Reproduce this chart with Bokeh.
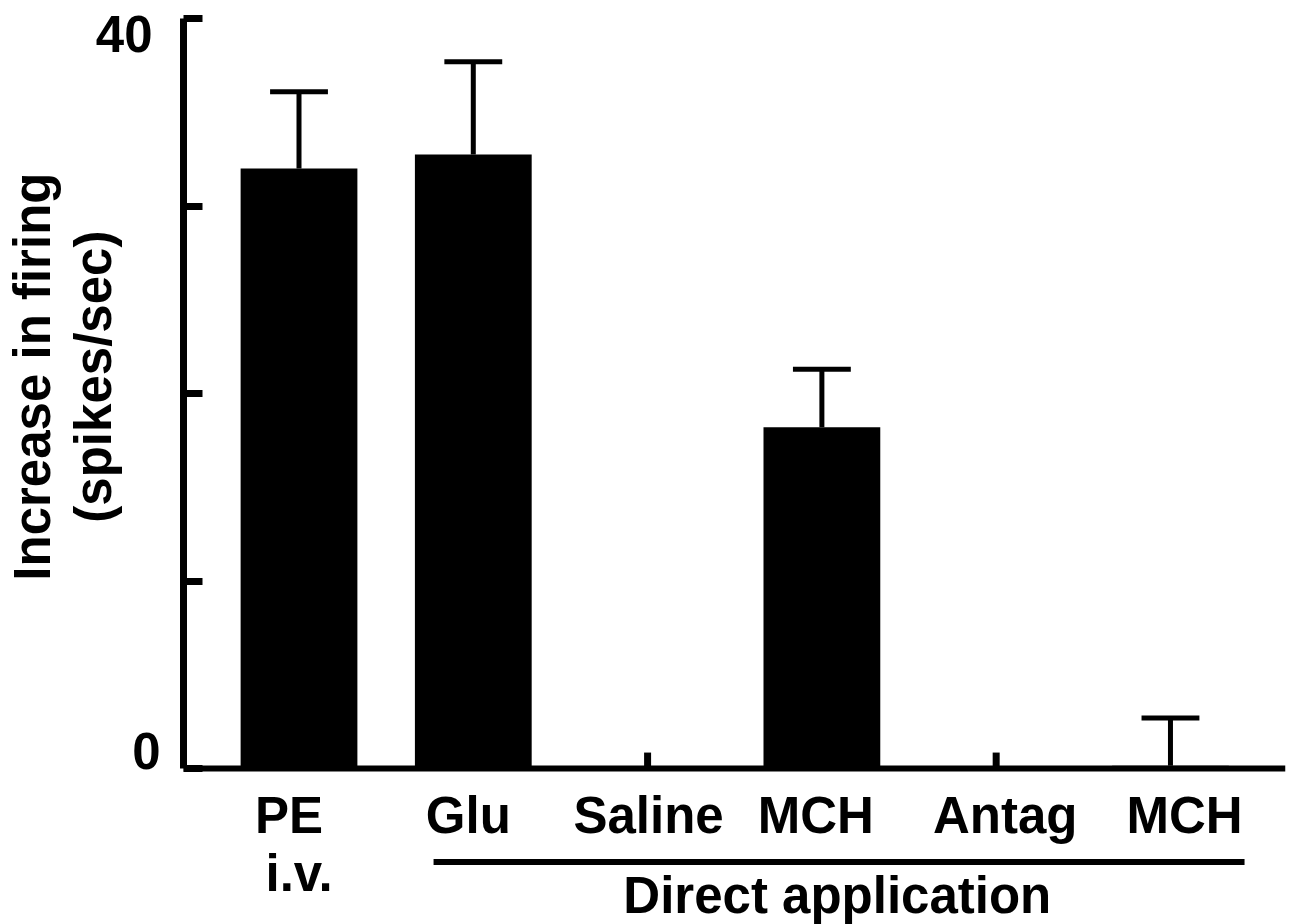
from math import pi
from bokeh.plotting import figure
from bokeh.layouts import row
from bokeh.models import Range1d, Span, FixedTicker, ColumnDataSource
from bokeh.core.properties import value
from bokeh.embed import file_html
from bokeh.resources import INLINE

# ---------------- data ----------------
categories = ["PE", "Glu", "Saline", "MCH", "Antag", "MCH"]
sublabels = ["i.v.", "", "", "", "", ""]
means = [32.0, 32.75, 0.0, 18.2, 0.0, 0.15]
sems = [4.1, 4.95, 0.85, 3.1, 0.85, 2.55]
y_ticks = [0, 10, 20, 30, 40]
y_tick_labels = ["0", "40"]
y_tick_label_values = [0, 40]
y_title = ["Increase in firing", "(spikes/sec)"]
group_label = "Direct application"
group_members = [1, 5]          # Glu ... last MCH

# ---------------- layout constants ----------------
FONT = value("Liberation Sans")
FS = "51px"
PX = 18.75                      # pixels per y unit
ZERO_Y = 768                    # canvas y of value 0
H = 924
Y_START, Y_END = -(H - ZERO_Y) / PX, ZERO_Y / PX
X_START, X_END = -0.6627, 5.660
LEFT_W, BORDER_L, FRAME_W, BORDER_R = 168, 15, 1102, 7
DY = -20                        # text baseline correction

yr = Range1d(Y_START, Y_END)
xs = list(range(len(categories)))

# ---------------- main figure ----------------
p = figure(width=BORDER_L + FRAME_W + BORDER_R, height=H,
           x_range=Range1d(X_START, X_END), y_range=yr,
           x_axis_type=None, output_backend="svg", toolbar_location=None,
           min_border=0, min_border_left=BORDER_L, min_border_right=BORDER_R)
p.grid.visible = False
p.outline_line_color = None

ax = p.yaxis[0]
ax.ticker = FixedTicker(ticks=y_ticks)
ax.bounds = (0, 40)
ax.axis_line_width = 7
ax.axis_line_color = "black"
ax.major_tick_in = 19
ax.major_tick_out = 0
ax.major_tick_line_width = 7
ax.minor_tick_line_color = None
ax.major_label_overrides = {t: "" for t in y_ticks}
ax.major_label_standoff = 0

src = ColumnDataSource(dict(x=xs, top=means))
p.vbar(x="x", top="top", bottom=0, width=0.67, source=src,
       fill_color="black", line_color=None)

p.add_layout(Span(location=0, dimension="width", line_color="black", line_width=6))

# error bars
stem_w = [5 if m > 0 else 7 for m in means]
p.segment(x0=xs, y0=means, x1=xs, y1=[m + s for m, s in zip(means, sems)],
          line_color="black", line_width=stem_w)
cap_half = 0.166
cx = [x for x, m in zip(xs, means) if m > 0]
cy = [m + s for m, s in zip(means, sems) if m > 0]
p.segment(x0=[x - cap_half for x in cx], y0=cy, x1=[x + cap_half for x in cx], y1=cy,
          line_color="black", line_width=5)

# category labels
lab_dx = [-10, -5, 1, -6, 9, 14]
p.text(x=xs, y=[0] * len(xs), text=categories, x_offset=lab_dx, y_offset=67 + DY,
       text_font=FONT, text_font_size=FS, text_font_style="bold",
       text_align="center", text_baseline="alphabetic", text_color="black")
sub_x = [x for x, s in zip(xs, sublabels) if s]
sub_t = [s for s in sublabels if s]
p.text(x=sub_x, y=[0] * len(sub_x), text=sub_t, y_offset=125 + DY,
       text_font=FONT, text_font_size=FS, text_font_style="bold",
       text_align="center", text_baseline="alphabetic", text_color="black")

# group bracket
g0, g1 = group_members
gx0, gx1 = g0 - 0.228, g1 + 0.425
bracket_y = -93.5 / PX
p.segment(x0=[gx0], y0=[bracket_y], x1=[gx1], y1=[bracket_y],
          line_color="black", line_width=6)
p.text(x=[(gx0 + gx1) / 2 - 0.01], y=[0], text=[group_label], y_offset=147 + DY,
       text_font=FONT, text_font_size=FS, text_font_style="bold",
       text_align="center", text_baseline="alphabetic", text_color="black")

# ---------------- left figure (axis title + tick labels) ----------------
L = figure(width=LEFT_W, height=H, x_range=Range1d(0, LEFT_W), y_range=yr,
           x_axis_type=None, y_axis_type=None, output_backend="svg",
           toolbar_location=None, min_border=0)
L.grid.visible = False
L.outline_line_color = None

L.text(x=[160, 152], y=y_tick_label_values, text=y_tick_labels,
       y_offset=[2 + DY, 35 + DY],
       text_font=FONT, text_font_size=FS, text_font_style="bold",
       text_align="right", text_baseline="alphabetic", text_color="black")
L.text(x=[52 + DY, 113 + DY], y=[20.9, 20.9], text=y_title, angle=pi / 2,
       text_font=FONT, text_font_size=FS, text_font_style="bold",
       text_align="center", text_baseline="alphabetic", text_color="black")

layout = row(L, p, spacing=0)
open("out.html", "w").write(file_html(layout, INLINE))
